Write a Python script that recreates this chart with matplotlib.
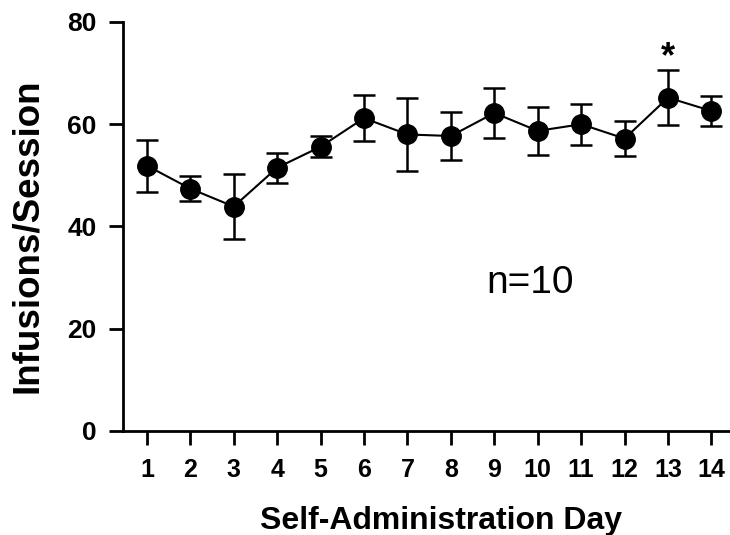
import matplotlib
matplotlib.use("Agg")
import matplotlib.pyplot as plt

days = list(range(1, 15))
means = [51.9, 47.4, 43.9, 51.5, 55.6, 61.2, 58.0, 57.7, 62.2, 58.7, 60.0, 57.2, 65.2, 62.6]
sems = [5.1, 2.5, 6.3, 2.9, 2.1, 4.5, 7.2, 4.7, 4.8, 4.7, 4.0, 3.4, 5.4, 3.0]
yticks = [0, 20, 40, 60, 80]
sig_day = 13

plt.rcParams['font.family'] = ['Liberation Sans', 'DejaVu Sans']

fig = plt.figure(figsize=(7.3, 5.35), dpi=100)
ax = fig.add_axes([0.1685, 0.1944, 0.8305, 0.7645])

ax.errorbar(days, means, yerr=sems, color='black', lw=1.5, marker='o',
            markersize=14, capsize=8, capthick=1.8, elinewidth=1.8, zorder=3)

ax.set_xlim(0.45, 14.41)
ax.set_ylim(0, 80)
ax.set_xticks(days)
ax.set_yticks(yticks)
ax.spines['top'].set_visible(False)
ax.spines['right'].set_visible(False)
for s in ['left', 'bottom']:
    ax.spines[s].set_linewidth(2.0)
ax.tick_params(axis='both', direction='out', length=10, width=2.0)
ax.tick_params(axis='x', pad=9.5, labelsize=18)
ax.tick_params(axis='y', pad=9.0, labelsize=19)
for lab in ax.get_xticklabels() + ax.get_yticklabels():
    lab.set_fontweight('bold')

ax.set_xlabel('Self-Administration Day', fontsize=23, fontweight='bold', labelpad=17)
ax.xaxis.label.set_x(0.524)
ax.set_ylabel('Infusions/Session', fontsize=26.5, fontweight='bold', labelpad=16)
ax.yaxis.label.set_y(0.478)
ax.text(9.83, 26.9, 'n=10', fontsize=28, ha='center', va='baseline')
i = days.index(sig_day)
ax.text(sig_day, means[i] + sems[i] + 0.6, '*', fontsize=26, fontweight='bold',
        ha='center', va='baseline')

fig.savefig('out.png', dpi=100)
